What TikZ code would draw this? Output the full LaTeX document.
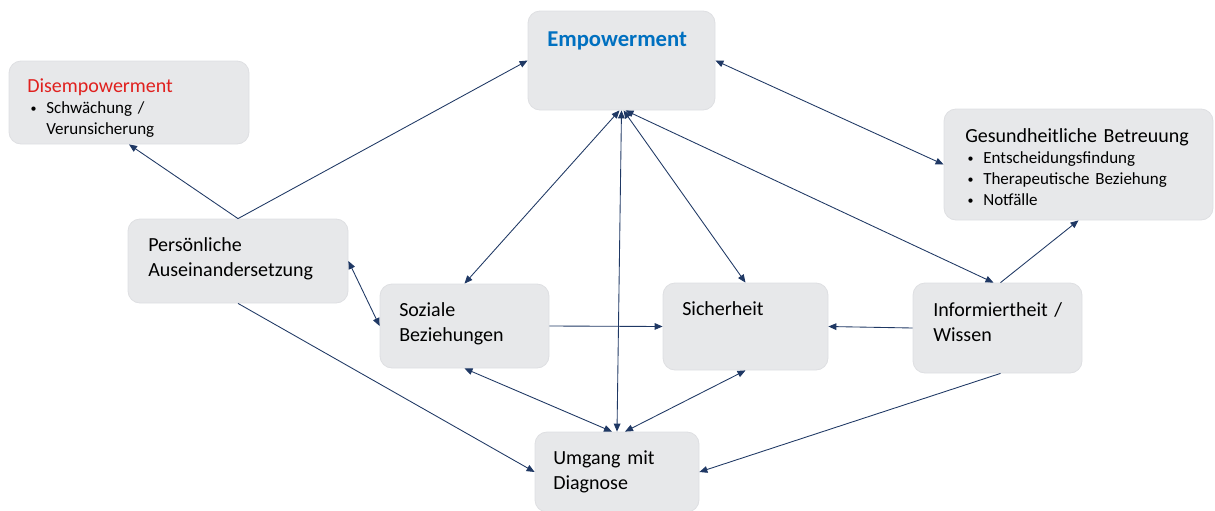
\documentclass[tikz,border=0pt]{standalone}
\usepackage{fontspec}
\setmainfont{Carlito}
\usetikzlibrary{arrows.meta}

\definecolor{boxgray}{HTML}{E7E8EA}
\definecolor{boxline}{HTML}{DEDFE2}
\definecolor{arrowblue}{HTML}{1F3864}
\definecolor{empblue}{HTML}{0070C0}
\definecolor{disred}{HTML}{E0201E}
\newcommand{\itembullet}{\makebox[12.75pt][l]{\hspace*{1pt}\raisebox{0.12ex}{\fontsize{9}{9}\selectfont\textbullet}}}

\begin{document}
\begin{tikzpicture}[x=0.75pt,y=-0.75pt,
        box/.style 2 args={draw=boxline,line width=0.6pt,fill=boxgray,rounded corners=9pt,inner sep=0pt,minimum width=#1*0.75pt,minimum height=#2*0.75pt},
        txt/.style={anchor=base west,inner sep=0pt,align=left,text width=200pt,font=\fontsize{15}{18.4}\selectfont},
        lst/.style={txt,font=\fontsize{12.75}{16}\selectfont},
        con/.style={arrowblue,line width=0.65pt},
        >={Triangle[length=6pt,width=5pt]}]
        \useasboundingbox (0,0) rectangle (1215,511);
        % boxes
        \node[box={187}{99}] (emp) at (621.5,60.5) {};
        \node[box={240}{83}] (dis) at (129,102.5) {};
        \node[box={269}{111}] (ges) at (1078.5,164.5) {};
        \node[box={220}{84}] (pers) at (238,261) {};
        \node[box={169}{84}] (soz) at (464.5,326) {};
        \node[box={165}{87}] (sich) at (745.5,326.5) {};
        \node[box={169}{90}] (info) at (997.5,328) {};
        \node[box={164}{80}] (umg) at (617,472) {};
        % texts
        \node[txt,font=\bfseries\fontsize{17}{20}\selectfont,text=empblue] (emp-t) at (547,46) {Empowerment};
        \node[txt,text=disred] (dis-t) at (27,92) {Disempowerment};
        \node[lst] (dis-l) at (29,113) {\itembullet Schwächung /\\\hspace*{12.75pt}Verunsicherung};
        \node[txt] (ges-t) at (965,142.5) {Gesundheitliche Betreuung};
        \node[lst,font=\fontsize{12.75}{15.75}\selectfont] (ges-l) at (966,163.5) {\itembullet Entscheidungsfindung\\\itembullet Therapeutische Beziehung\\\itembullet Notfälle};
        \node[txt] (pers-t) at (148,251.5) {Persönliche\\Auseinandersetzung};
        \node[txt] (soz-t) at (399,316.5) {Soziale\\Beziehungen};
        \node[txt] (sich-t) at (682,315.5) {Sicherheit};
        \node[txt] (info-t) at (933,316.5) {Informiertheit /\\Wissen};
        \node[txt] (umg-t) at (553,464.5) {Umgang mit\\Diagnose};
        % connectors
        \draw[con,->] (pers.north) -- (dis.south);
        \draw[con,->] (pers.north) -- (emp.west);
        \draw[con,<->] ([shift={(-2,0)}]emp.south) -- (soz.north);
        \draw[con,<->] ([shift={(2,0)}]emp.south) -- (sich.north);
        \draw[con,<->] (emp.south) -- (umg.north);
        \draw[con,<->] ([shift={(4,0)}]emp.south) -- ([shift={(-4,0)}]info.north);
        \draw[con,<->] (emp.east) -- (ges.west);
        \draw[con,->] ([shift={(3,0)}]info.north) -- (ges.south);
        \draw[con,<->] (pers.east) -- (soz.west);
        \draw[con,->] (soz.east) -- (sich.west);
        \draw[con,->] (info.west) -- (sich.east);
        \draw[con,<->] (soz.south) -- ([shift={(-5,0)}]umg.north);
        \draw[con,<->] (sich.south) -- ([shift={(8,0)}]umg.north);
        \draw[con,->] (pers.south) -- (umg.west);
        \draw[con,->] ([shift={(3,0)}]info.south) -- (umg.east);
    \end{tikzpicture}
\end{document}
